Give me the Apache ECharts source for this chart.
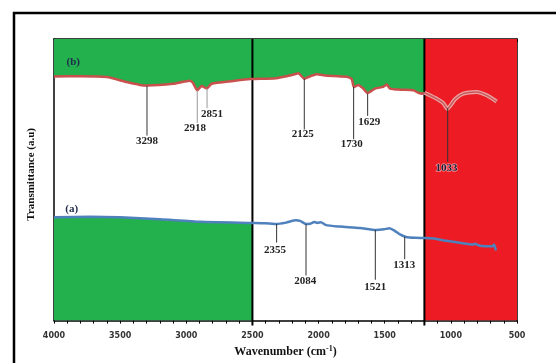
<!DOCTYPE html>
<html>
<head>
<meta charset="utf-8">
<script src="https://cdn.jsdelivr.net/npm/echarts@6/dist/echarts.min.js"></script>
<style>
  html, body { margin: 0; padding: 0; background: #fff; }
  #chart { width: 556px; height: 363px; }
</style>
</head>
<body>
<div id="chart"></div>
<script>
// spectrum (b) : [wavenumber, transmittance a.u.]
const curveB = [
  [4000, 86.7], [3800, 86.8], [3600, 86.5], [3450, 84.7], [3350, 83.7], [3297, 83.5],
  [3100, 84.1], [2972, 85.2], [2949, 84.4], [2917, 81.8], [2884, 83.3], [2846, 82.4],
  [2808, 84.1], [2647, 85.1], [2518, 85.8], [2322, 86.1], [2186, 87.4], [2153, 87.8],
  [2108, 85.9], [2065, 86.7], [2014, 87.5], [1944, 87.0], [1838, 86.7], [1788, 86.6],
  [1750, 85.8], [1732, 82.9], [1700, 83.7], [1662, 82.4], [1629, 80.8], [1573, 82.4],
  [1511, 83.0], [1485, 83.8], [1460, 82.4], [1385, 82.0], [1284, 81.8], [1246, 80.9],
  [1213, 80.6], [1200, 80.9], [1196, 81.0], [1120, 79.1], [1057, 77.2], [1027, 75.2],
  [969, 78.6], [906, 80.6], [805, 81.2], [729, 80.0], [654, 77.8]
];
// spectrum (a)
const curveA = [
  [4000, 36.7], [3728, 36.9], [3501, 36.7], [3199, 36.0], [2896, 35.1], [2500, 34.7],
  [2406, 34.6], [2317, 34.3], [2246, 34.8], [2171, 35.6], [2140, 35.4], [2095, 34.3],
  [2065, 34.4], [2032, 35.0], [2007, 34.7], [1982, 34.9], [1944, 33.9], [1838, 33.4],
  [1687, 32.9], [1566, 32.2], [1506, 32.4], [1465, 32.8], [1422, 31.8], [1385, 30.6],
  [1339, 29.7], [1271, 29.4], [1188, 29.3], [1120, 29.1], [1062, 28.5], [969, 27.9],
  [835, 27.0], [818, 27.3], [780, 26.6], [684, 26.4], [674, 27.0], [659, 24.9]
];

// x axis ticks
const xMin = 500;
const xMax = 4000;
const xStep = 500;
// shaded wavenumber ranges
const greenTo = 1200;
const greenLowTo = 2500;
const redFrom = 1200;
const dividers = [2500, 1200];

// peak labels (b)
const peakLabelsB = ['3298', '2918', '2851', '2125', '1730', '1629', '1033'];
const peakXB = [3297, 2917, 2843, 2108, 1735, 1629, 1024];
const peakTopB = [83.4, 81.7, 82.4, 85.9, 83.0, 80.6, 75.4];
const peakEndB = [65.7, 70.2, 75.4, 67.9, 64.4, 72.7, 56.4];
const peakLabelXB = [3297, 2934, 2806, 2120, 1750, 1617, 1032];
const peakLabelYB = [63.6, 68.2, 73.4, 66.3, 62.8, 70.6, 54.3];
// peak labels (a)
const peakLabelsA = ['2355', '2084', '1521', '1313'];
const peakXA = [2317, 2095, 1571, 1349];
const peakTopA = [34.3, 34.3, 32.2, 29.8];
const peakEndA = [27.7, 16.0, 14.5, 21.8];
const peakLabelXA = [2329, 2100, 1571, 1352];
const peakLabelYA = [24.9, 13.9, 12.0, 19.7];

// curve names
const curveNames = ['(b)', '(a)'];
const curveNameX = [3854, 3866];
const curveNameY = [91.6, 39.7];

const GREEN = '#22b14c';
const RED = '#ed1c24';
const SERIF = '"Liberation Serif", "DejaVu Serif", serif';

let annot = [];
peakLabelsB.forEach((t, i) => annot.push([peakXB[i], peakTopB[i], peakEndB[i], peakLabelXB[i], peakLabelYB[i], t]));
peakLabelsA.forEach((t, i) => annot.push([peakXA[i], peakTopA[i], peakEndA[i], peakLabelXA[i], peakLabelYA[i], t]));

const chart = echarts.init(document.getElementById('chart'));

const tickStyle = { color: '#000', width: 1 };

chart.setOption({
  animation: false,
  grid: { left: 54, right: 39, top: 39, bottom: 35 },
  xAxis: [
    {
      type: 'value', min: xMin, max: xMax, interval: xStep, inverse: true, position: 'bottom',
      name: 'Wavenumber (cm{sup|-1})', nameLocation: 'middle', nameGap: 22,
      nameTextStyle: {
        fontFamily: SERIF, fontWeight: 'bold', fontSize: 12, color: '#111',
        rich: { sup: { fontFamily: SERIF, fontWeight: 'bold', fontSize: 8, color: '#111', padding: [0, 0, 7, 0] } }
      },
      axisLine: { show: true, onZero: false, lineStyle: { color: '#000', width: 1.5 } },
      axisTick: { show: true, length: 3, lineStyle: tickStyle },
      minorTick: { show: true, splitNumber: 5, length: 3, lineStyle: tickStyle },
      axisLabel: { margin: 11, formatter: v => String(v), fontFamily: 'DejaVu Sans', fontWeight: 'bold', fontSize: 8, color: '#333' },
      splitLine: { show: false }
    },
    {
      type: 'value', min: xMin, max: xMax, interval: xStep, inverse: true, position: 'top',
      axisLine: { show: true, onZero: false, lineStyle: { color: '#000', width: 1.5 } },
      axisTick: { show: true, inside: true, length: 3, lineStyle: tickStyle },
      minorTick: { show: true, splitNumber: 5, length: 3, lineStyle: tickStyle },
      axisLabel: { show: false },
      splitLine: { show: false }
    }
  ],
  yAxis: [
    {
      type: 'value', min: 0, max: 100, position: 'left',
      name: 'Transmittance (a.u)', nameLocation: 'middle', nameGap: 17,
      nameTextStyle: { fontFamily: SERIF, fontWeight: 'bold', fontSize: 11, color: '#111', padding: [0, 0, 0, 11] },
      axisLine: { show: true, lineStyle: { color: '#000', width: 1.5 } },
      axisTick: { show: false }, axisLabel: { show: false }, splitLine: { show: false }
    },
    {
      type: 'value', min: 0, max: 100, position: 'right',
      axisLine: { show: true, lineStyle: { color: '#000', width: 1.5 } },
      axisTick: { show: false }, axisLabel: { show: false }, splitLine: { show: false }
    }
  ],
  // outer frame (only top and left edges fall inside the picture)
  graphic: [
    { type: 'polyline', shape: { points: [[14, 420], [14, 13], [620, 13]] }, style: { fill: null, stroke: '#000', lineWidth: 2.5 }, z: 100 }
  ],
  series: [
    // green above (b)
    {
      type: 'line', data: curveB.filter(p => p[0] >= greenTo), symbol: 'none', smooth: 0.2,
      lineStyle: { width: 0 }, areaStyle: { origin: 'end', color: GREEN, opacity: 1 }, z: 1, silent: true
    },
    // green below (a)
    {
      type: 'line', data: curveA.filter(p => p[0] >= greenLowTo), symbol: 'none', smooth: 0.2,
      lineStyle: { width: 0 }, areaStyle: { origin: 'start', color: GREEN, opacity: 1 }, z: 1, silent: true
    },
    // red band
    {
      type: 'line', data: [[redFrom, 100], [xMin, 100]], symbol: 'none',
      lineStyle: { width: 0 }, areaStyle: { origin: 'start', color: RED, opacity: 1 }, z: 2, silent: true
    },
    // dividers
    ...dividers.map(d => ({
      type: 'line', data: [[d, -1.7], [d, 100]], symbol: 'none', clip: false,
      lineStyle: { color: '#000', width: 2 }, z: 3, silent: true
    })),
    // (b) line
    {
      type: 'line', data: curveB.filter(p => p[0] >= redFrom), symbol: 'none', smooth: 0.2,
      lineStyle: { color: '#c9504d', width: 2.5 }, z: 5
    },
    {
      type: 'line', data: curveB.filter(p => p[0] <= redFrom), symbol: 'none', smooth: 0.2,
      lineStyle: { color: '#eaa4a4', width: 4 }, z: 5
    },
    {
      type: 'line', data: curveB.filter(p => p[0] <= redFrom), symbol: 'none', smooth: 0.2,
      lineStyle: { color: '#c85a5a', width: 1.5 }, z: 6
    },
    // (a) line
    {
      type: 'line', data: curveA, symbol: 'none', smooth: 0.2,
      lineStyle: { color: '#4f81bd', width: 2.5 }, z: 5
    },
    // peak annotations
    {
      type: 'custom', data: annot, z: 7, silent: true,
      renderItem: (params, api) => {
        const d = annot[params.dataIndex];
        const p1 = api.coord([d[0], d[1]]);
        const p2 = api.coord([d[0], d[2]]);
        const pl = api.coord([d[3], d[4]]);
        const grey = d[5] === '2918' || d[5] === '2851';
        const onRed = d[0] < redFrom;
        return {
          type: 'group',
          children: [
            { type: 'line', shape: { x1: p1[0], y1: p1[1], x2: p2[0], y2: p2[1] },
              style: { stroke: grey ? '#999' : '#333', lineWidth: 1 } },
            { type: 'text', x: pl[0], y: pl[1],
              style: { text: d[5], align: 'center', verticalAlign: 'middle',
                font: 'bold 11px ' + SERIF, fill: onRed ? '#1a1a3a' : '#222',
                stroke: onRed ? 'rgba(255,235,235,0.7)' : null, lineWidth: onRed ? 1 : 0 } }
          ]
        };
      }
    },
    // (a)/(b) tags
    {
      type: 'custom', data: curveNames.map((t, i) => [curveNameX[i], curveNameY[i]]), z: 7, silent: true,
      renderItem: (params, api) => {
        const p = api.coord([api.value(0), api.value(1)]);
        return { type: 'text', x: p[0], y: p[1],
          style: { text: curveNames[params.dataIndex], align: 'center', verticalAlign: 'middle',
            font: 'bold 11px ' + SERIF, fill: '#1f2a4d' } };
      }
    }
  ]
});
</script>
</body>
</html>
